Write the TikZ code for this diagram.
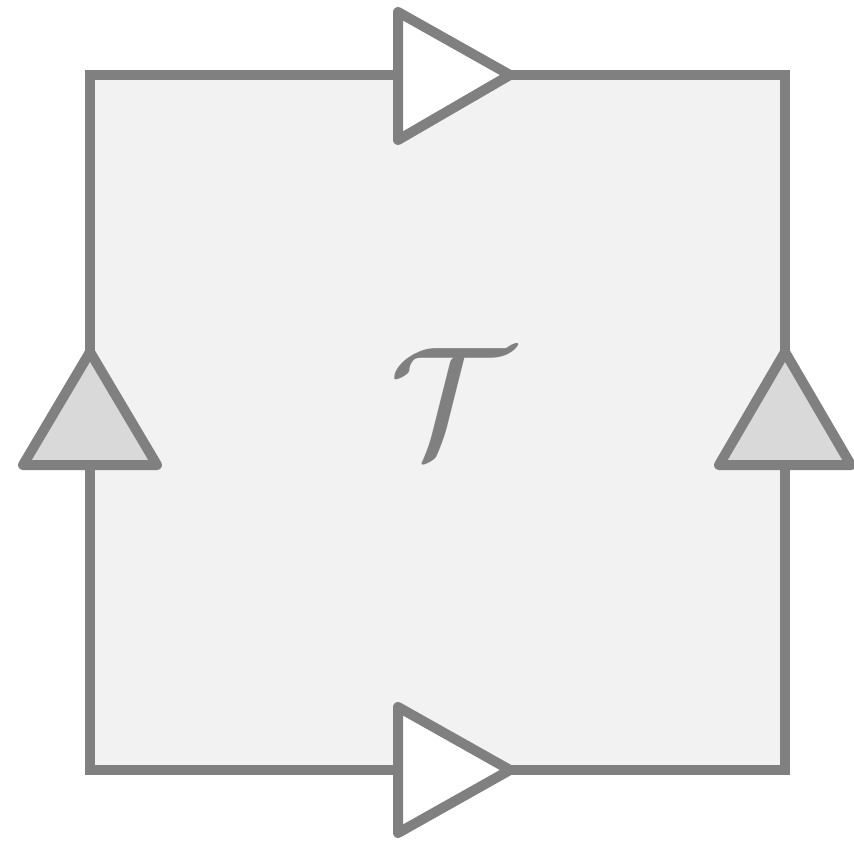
\documentclass[tikz,border=0pt]{standalone}
\begin{document}
\begin{tikzpicture}[x=1pt,y=-1pt,
  edge/.style={draw=linegray,line width=10pt,line join=round,line cap=round},
  hmark/.style={edge,fill=white},
  vmark/.style={edge,fill=markgray}]
\definecolor{linegray}{HTML}{808080}
\definecolor{facegray}{HTML}{F2F2F2}
\definecolor{markgray}{HTML}{D9D9D9}
\useasboundingbox (0,0) rectangle (854,843);
\coordinate (tl) at (90,75);
\coordinate (tr) at (785,75);
\coordinate (br) at (785,770);
\coordinate (bl) at (90,770);
\fill[facegray] (tl) rectangle (br);
\draw[edge,line cap=butt,line join=miter] (tl) -- (tr) -- (br) -- (bl) -- cycle;
% top and bottom markers
\draw[hmark] (398,12) -- (510,75) -- (398,140) -- cycle;
\draw[hmark] (398,707) -- (510,770) -- (398,833) -- cycle;
% left and right markers
\draw[vmark] (90,352) -- (157,465) -- (23,465) -- cycle;
\draw[vmark] (785,352) -- (851,465) -- (719,465) -- cycle;
\node[text=linegray,scale=15.5,inner sep=0pt] (label) at (451,402) {$\mathcal{T}$};
\end{tikzpicture}
\end{document}
